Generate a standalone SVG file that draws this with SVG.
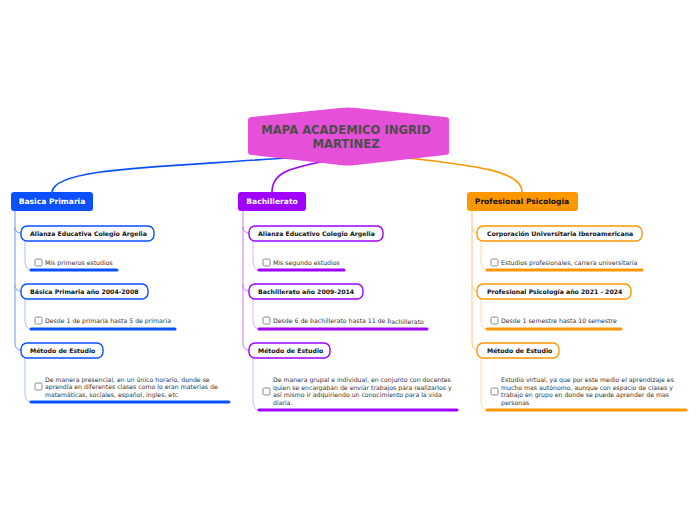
<svg xmlns="http://www.w3.org/2000/svg" width="696" height="520" viewBox="0 0 696 520">
<style>
.main{font-family:"DejaVu Sans",Verdana,sans-serif;font-weight:bold;font-size:7.6px;text-anchor:middle}
.child rect{fill:#fff;stroke-width:1.4}
.child text{font-family:"DejaVu Sans",Verdana,sans-serif;font-weight:bold;font-size:6.2px;fill:#111}
.item text{font-family:"DejaVu Sans",Verdana,sans-serif;font-size:6.2px;fill:#333}
.cb{fill:#fff;stroke:#7a7a7a;stroke-width:0.9}
.ul{stroke-width:3;stroke-linecap:round;fill:none}
.c{fill:none}
</style>
<rect width="696" height="520" fill="#fff"/>
<g id="connectors">
<path class="c" d="M300,157 C150,168 55,168 52,192" stroke="#0a50ff" stroke-width="1.6"/>
<path class="c" d="M330,160 C290,168 272,172 272,192" stroke="#a000ff" stroke-width="1.6"/>
<path class="c" d="M400,157 C470,165 522,170 522,192" stroke="#ff9800" stroke-width="1.6"/>
<g stroke="#6f96ff" stroke-width="1" class="c">
<path class="c" d="M15,210 L15,343 Q15,350 21,350"/>
<path class="c" d="M15,227 Q15,233 21,233"/>
<path class="c" d="M15,285 Q15,291 21,291"/>
</g>
<g stroke="#a9c0ff" stroke-width="1" class="c">
<path class="c" d="M25,241 L25,262 Q26,270 31,270"/>
<path class="c" d="M25,299 L25,321 Q26,329 31,329"/>
<path class="c" d="M25,358 L25,394 Q26,402 31,402"/>
</g>
<g stroke="#c978ff" stroke-width="1" class="c">
<path class="c" d="M243,210 L243,343 Q243,350 249,350"/>
<path class="c" d="M243,227 Q243,233 249,233"/>
<path class="c" d="M243,285 Q243,291 249,291"/>
</g>
<g stroke="#dcb0ff" stroke-width="1" class="c">
<path class="c" d="M253,241 L253,262 Q254,270 259,270"/>
<path class="c" d="M253,299 L253,321 Q254,329 259,329"/>
<path class="c" d="M253,358 L253,402 Q254,410 259,410"/>
</g>
<g stroke="#ffc570" stroke-width="1" class="c">
<path class="c" d="M472,210 L472,343 Q472,350 478,350"/>
<path class="c" d="M472,227 Q472,233 478,233"/>
<path class="c" d="M472,285 Q472,291 478,291"/>
</g>
<g stroke="#ffdca8" stroke-width="1" class="c">
<path class="c" d="M481,241 L481,262 Q482,270 487,270"/>
<path class="c" d="M481,299 L481,321 Q482,329 487,329"/>
<path class="c" d="M481,358 L481,402 Q482,410 487,410"/>
</g>
</g>
<g id="center">
<path d="M248,120 Q248,117 252,117 L340,108 Q348,107 356,108 L445,117 Q449,117 449,120 L449,152 Q449,155 445,155 L356,165 Q348,166 340,165 L252,155 Q248,155 248,152 Z" fill="#e64fd8"/>
<text x="346" y="134" font-family="DejaVu Sans,Verdana,sans-serif" font-weight="bold" font-size="11.6" fill="#4d4d4d" text-anchor="middle">MAPA ACADEMICO INGRID</text>
<text x="346" y="148" font-family="DejaVu Sans,Verdana,sans-serif" font-weight="bold" font-size="11.6" fill="#4d4d4d" text-anchor="middle">MARTINEZ</text>
</g>
<g id="basica">
<rect x="11" y="192" width="82" height="19" rx="3" fill="#0a50ff"/>
<text class="main" x="52" y="204" fill="#fff">Basica Primaria</text>
</g>
<g id="bachillerato">
<rect x="238" y="192" width="68" height="19" rx="3" fill="#a000ff"/>
<text class="main" x="272" y="204" fill="#fff">Bachillerato</text>
</g>
<g id="profesional">
<rect x="467" y="192" width="111" height="19" rx="3" fill="#ff9800"/>
<text class="main" x="522" y="204" fill="#111">Profesional Psicologia</text>
</g>
<g id="b1" class="child"><rect x="21" y="226" width="133" height="15" rx="6" stroke="#0a50ff"/><text x="30" y="236">Alianza Educativa Colegio Argelia</text></g>
<g id="b1i" class="item"><rect class="cb" x="35" y="259" width="7" height="7" rx="1.5"/><text x="45" y="265">Mis primeros estudios</text><line class="ul" x1="31" y1="270" x2="117" y2="270" stroke="#0a50ff"/></g>
<g id="b2" class="child"><rect x="21" y="284" width="127" height="15" rx="6" stroke="#0a50ff"/><text x="30" y="294">Básica Primaria año 2004-2008</text></g>
<g id="b2i" class="item"><rect class="cb" x="35" y="317" width="7" height="7" rx="1.5"/><text x="45" y="323">Desde 1 de primaria hasta 5 de primaria</text><line class="ul" x1="31" y1="329" x2="175" y2="329" stroke="#0a50ff"/></g>
<g id="b3" class="child"><rect x="21" y="343" width="82" height="15" rx="6" stroke="#0a50ff"/><text x="30" y="353">Método de Estudio</text></g>
<g id="b3i" class="item"><rect class="cb" x="35" y="383" width="7" height="7" rx="1.5"/><text x="45" y="381.5">De manera presencial, en un único horario, donde se</text><text x="45" y="389">aprendía en diferentes clases como lo eran materias de</text><text x="45" y="396.5">matemáticas, sociales, español, ingles, etc</text><line class="ul" x1="31" y1="402" x2="229" y2="402" stroke="#0a50ff"/></g>
<g id="m1" class="child"><rect x="249" y="226" width="134" height="15" rx="6" stroke="#a000ff"/><text x="258" y="236">Alianza Educativo Colegio Argelia</text></g>
<g id="m1i" class="item"><rect class="cb" x="263" y="259" width="7" height="7" rx="1.5"/><text x="273" y="265">Mis segundo estudios</text><line class="ul" x1="259" y1="270" x2="344" y2="270" stroke="#a000ff"/></g>
<g id="m2" class="child"><rect x="249" y="284" width="114" height="15" rx="6" stroke="#a000ff"/><text x="258" y="294">Bachillerato año 2009-2014</text></g>
<g id="m2i" class="item"><rect class="cb" x="263" y="317" width="7" height="7" rx="1.5"/><text x="273" y="323">Desde 6 de bachillerato hasta 11 de b<tspan dy="1">achillerato</tspan></text><line class="ul" x1="259" y1="329" x2="427" y2="329" stroke="#a000ff"/></g>
<g id="m3" class="child"><rect x="249" y="343" width="81" height="15" rx="6" stroke="#a000ff"/><text x="258" y="353">Método de Estudio</text></g>
<g id="m3i" class="item"><rect class="cb" x="263" y="388" width="7" height="7" rx="1.5"/><text x="273" y="382">De manera grupal e individual, en conjunto con docentes</text><text x="273" y="389.5">quien se encargaban de enviar trabajos para realizarlos y</text><text x="273" y="397">así mismo ir adquiriendo un conocimiento para la vida</text><text x="273" y="404.5">diaria.</text><line class="ul" x1="259" y1="410" x2="457" y2="410" stroke="#a000ff"/></g>
<g id="o1" class="child"><rect x="477" y="226" width="165" height="15" rx="6" stroke="#ff9800"/><text x="487" y="236">Corporación Universitaria Iberoamericana</text></g>
<g id="o1i" class="item"><rect class="cb" x="491" y="259" width="7" height="7" rx="1.5"/><text x="501" y="265">Estudios profesionales, carrera universitaria</text><line class="ul" x1="487" y1="270" x2="642" y2="270" stroke="#ff9800"/></g>
<g id="o2" class="child"><rect x="477" y="284" width="154" height="15" rx="6" stroke="#ff9800"/><text x="487" y="294">Profesional Psicología año 2021 - 2024</text></g>
<g id="o2i" class="item"><rect class="cb" x="491" y="317" width="7" height="7" rx="1.5"/><text x="501" y="323">Desde 1 semestre hasta 10 semestre</text><line class="ul" x1="487" y1="329" x2="621" y2="329" stroke="#ff9800"/></g>
<g id="o3" class="child"><rect x="477" y="343" width="82" height="15" rx="6" stroke="#ff9800"/><text x="487" y="353">Método de Estudio</text></g>
<g id="o3i" class="item"><rect class="cb" x="491" y="388" width="7" height="7" rx="1.5"/><text x="501" y="382">Estudio virtual, ya que por este medio el aprendizaje es</text><text x="501" y="389.5">mucho mas autónomo, aunque con espacio de clases y</text><text x="501" y="397">trabajo en grupo en donde se puede aprender de mas</text><text x="501" y="404.5">personas</text><line class="ul" x1="487" y1="410" x2="686" y2="410" stroke="#ff9800"/></g>
</svg>
